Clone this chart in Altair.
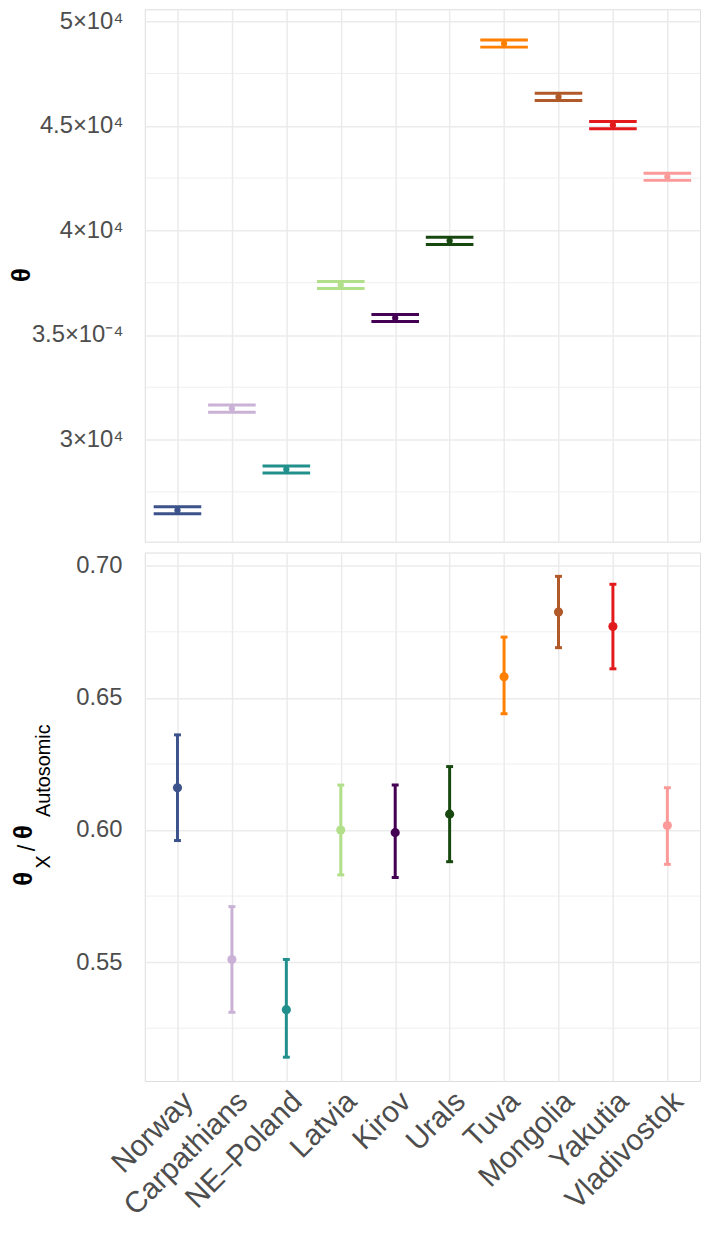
import altair as alt
import pandas as pd

# ---- data ----
populations = ["Norway", "Carpathians", "NE–Poland", "Latvia", "Kirov",
               "Urals", "Tuva", "Mongolia", "Yakutia", "Vladivostok"]
colors = ["#3B528B", "#CAB2D6", "#21908C", "#B2DF8A", "#440154",
          "#17480F", "#FF7F00", "#B15928", "#E31A1C", "#FB9A99"]

theta_mean = [2.662e-4, 3.148e-4, 2.857e-4, 3.739e-4, 3.581e-4,
              3.950e-4, 4.893e-4, 4.638e-4, 4.503e-4, 4.256e-4]
theta_lo = [2.645e-4, 3.131e-4, 2.840e-4, 3.722e-4, 3.564e-4,
            3.933e-4, 4.876e-4, 4.621e-4, 4.486e-4, 4.239e-4]
theta_hi = [2.679e-4, 3.165e-4, 2.874e-4, 3.756e-4, 3.598e-4,
            3.967e-4, 4.910e-4, 4.655e-4, 4.520e-4, 4.273e-4]

ratio_mean = [0.616, 0.551, 0.532, 0.600, 0.599, 0.606, 0.658, 0.6825, 0.677, 0.6017]
ratio_lo = [0.596, 0.531, 0.514, 0.583, 0.582, 0.588, 0.644, 0.669, 0.661, 0.587]
ratio_hi = [0.636, 0.571, 0.551, 0.617, 0.617, 0.624, 0.673, 0.696, 0.693, 0.616]

top_tick_values = [3.0e-4, 3.5e-4, 4.0e-4, 4.5e-4, 5.0e-4]
top_tick_labels = ["3×10⁴", "3.5×10⁻⁴", "4×10⁴", "4.5×10⁴", "5×10⁴"]
top_minor = [2.75e-4, 3.25e-4, 3.75e-4, 4.25e-4, 4.75e-4]

bot_tick_values = [0.55, 0.60, 0.65, 0.70]
bot_minor = [0.525, 0.575, 0.625, 0.675]

# ---- styling ----
FONT = "Liberation Sans"
GRID = "#ebebeb"
TXT = "#4d4d4d"
W = 560
H_TOP = 537
H_BOT = 533

df_top = pd.DataFrame({"pop": populations, "mean": theta_mean,
                       "lo": theta_lo, "hi": theta_hi})
df_bot = pd.DataFrame({"pop": populations, "mean": ratio_mean,
                       "lo": ratio_lo, "hi": ratio_hi})

xscale = alt.Scale(type="point", padding=0.6, domain=populations)
color = alt.Color("pop:N", scale=alt.Scale(domain=populations, range=colors), legend=None)

x_top = alt.X("pop:N", sort=populations, scale=xscale,
              axis=alt.Axis(labels=False, ticks=False, domain=False, title=None,
                            grid=True, gridColor=GRID, gridWidth=1.5))
x_bot = alt.X("pop:N", sort=populations, scale=xscale,
              axis=alt.Axis(ticks=False, domain=False, title=None,
                            grid=True, gridColor=GRID, gridWidth=1.5,
                            labelAngle=315, labelAlign="right", labelBaseline="top",
                            labelFontSize=30, labelColor=TXT, labelFont=FONT,
                            labelPadding=5, labelOverlap=False, labelLimit=400))

# label expression for the top axis (labels as printed in the figure)
expr = ""
for v, l in zip(top_tick_values, top_tick_labels):
    expr += f"round(datum.value*1e5)=={int(round(v * 1e5))} ? '{l}' : "
expr += "''"

ysc_top = alt.Scale(domain=[2.512e-4, 5.057e-4], nice=False, zero=False)
yax_top = alt.Axis(values=top_tick_values, labelExpr=expr, grid=True, gridColor=GRID,
                   gridWidth=1.5, ticks=False, domain=False, title=None,
                   labelFontSize=24, labelColor=TXT, labelFont=FONT, labelPadding=22)

ysc_bot = alt.Scale(domain=[0.505, 0.705], nice=False, zero=False)
yax_bot = alt.Axis(values=bot_tick_values, format=".2f", grid=True, gridColor=GRID,
                   gridWidth=1.5, ticks=False, domain=False, title=None,
                   labelFontSize=24, labelColor=TXT, labelFont=FONT, labelPadding=23)

# ---- top panel ----
btop = alt.Chart(df_top)
minor_top = alt.Chart(pd.DataFrame({"v": top_minor})).mark_rule(
    color=GRID, strokeWidth=0.8).encode(y=alt.Y("v:Q", scale=ysc_top, axis=yax_top))
rule_top = btop.mark_rule(strokeWidth=3).encode(
    x=x_top, y=alt.Y("lo:Q", scale=ysc_top, axis=yax_top), y2="hi:Q", color=color)
cap_lo_top = btop.mark_tick(thickness=3, size=48, opacity=1).encode(
    x=x_top, y=alt.Y("lo:Q", scale=ysc_top, axis=yax_top), color=color)
cap_hi_top = btop.mark_tick(thickness=3, size=48, opacity=1).encode(
    x=x_top, y=alt.Y("hi:Q", scale=ysc_top, axis=yax_top), color=color)
pt_top = btop.mark_point(filled=True, size=40, opacity=1).encode(
    x=x_top, y=alt.Y("mean:Q", scale=ysc_top, axis=yax_top), color=color)
title_top = alt.Chart(pd.DataFrame({"t": ["θ"]})).mark_text(
    angle=270, fontSize=26, fontWeight="bold", font=FONT, color="black",
    align="center", baseline="middle").encode(
    text="t:N", x=alt.value(-124), y=alt.value(268))

top = alt.layer(minor_top, rule_top, cap_lo_top, cap_hi_top, pt_top, title_top).properties(
    width=W, height=H_TOP)

# ---- bottom panel ----
bbot = alt.Chart(df_bot)
minor_bot = alt.Chart(pd.DataFrame({"v": bot_minor})).mark_rule(
    color=GRID, strokeWidth=0.8).encode(y=alt.Y("v:Q", scale=ysc_bot, axis=yax_bot))
rule_bot = bbot.mark_rule(strokeWidth=3).encode(
    x=x_bot, y=alt.Y("lo:Q", scale=ysc_bot, axis=yax_bot), y2="hi:Q", color=color)
cap_lo_bot = bbot.mark_tick(thickness=3, size=7, opacity=1).encode(
    x=x_bot, y=alt.Y("lo:Q", scale=ysc_bot, axis=yax_bot), color=color)
cap_hi_bot = bbot.mark_tick(thickness=3, size=7, opacity=1).encode(
    x=x_bot, y=alt.Y("hi:Q", scale=ysc_bot, axis=yax_bot), color=color)
pt_bot = bbot.mark_point(filled=True, size=85, opacity=1).encode(
    x=x_bot, y=alt.Y("mean:Q", scale=ysc_bot, axis=yax_bot), color=color)

# axis title θX / θAutosomic built from pieces (rotated)
title_parts = [
    ("θ", -122, 329, 26, "bold"),
    ("X", -102, 312, 20, "normal"),
    ("/", -118, 298, 24, "normal"),
    ("θ", -122, 282, 26, "bold"),
    ("Autosomic", -102, 220, 20, "normal"),
]
title_layers = []
for txt, px, py, fs, fw in title_parts:
    title_layers.append(
        alt.Chart(pd.DataFrame({"t": [txt]})).mark_text(
            angle=270, fontSize=fs, fontWeight=fw, font=FONT, color="black",
            align="center", baseline="middle").encode(
            text="t:N", x=alt.value(px), y=alt.value(py)))

bottom = alt.layer(minor_bot, rule_bot, cap_lo_bot, cap_hi_bot, pt_bot, *title_layers).properties(
    width=W, height=H_BOT)

chart = alt.vconcat(top, bottom, spacing=11, bounds="flush").properties(
    padding={"top": -5, "left": 0, "right": 0, "bottom": 0}
).configure_view(strokeWidth=0).configure(font=FONT)

chart.save("out.html", embed_options={"renderer": "svg", "actions": False})
